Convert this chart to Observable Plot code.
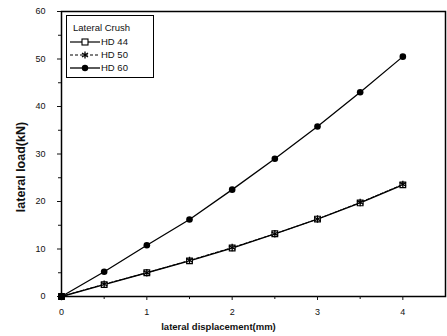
<!DOCTYPE html>
<html><head><meta charset="utf-8">
<script src="https://cdn.jsdelivr.net/npm/d3@7"></script>
<script src="https://cdn.jsdelivr.net/npm/@observablehq/plot@0.6"></script>
<style>
body{margin:0;background:#fff;font-family:"Liberation Sans",Arial,sans-serif;}
#wrap{position:relative;width:447px;height:336px;overflow:hidden;}
#legend{position:absolute;left:66px;top:15px;width:88px;height:63px;border:1.5px solid #000;background:#fff;font-size:9.5px;color:#111;box-sizing:border-box;white-space:nowrap;}
#legend .t{position:absolute;left:6px;top:6px;}
#legend .r{position:absolute;left:2px;height:12px;width:84px;}
#legend .r svg{position:absolute;left:0;top:0;}
#legend .r span{position:absolute;left:32px;top:0px;line-height:12px;}
</style></head><body><div id="wrap"></div>
<script>
const displacement = [0, 0.5, 1, 1.5, 2, 2.5, 3, 3.5, 4];
const hd44 = [0, 2.5, 5.0, 7.5, 10.2, 13.2, 16.3, 19.7, 23.5];
const hd50 = [0, 2.6, 5.0, 7.6, 10.3, 13.2, 16.3, 19.8, 23.6];
const hd60 = [0, 5.2, 10.8, 16.2, 22.5, 29.0, 35.8, 43.0, 50.5];
const seriesNames = ["HD 44", "HD 50", "HD 60"];
const yTicks = [0, 10, 20, 30, 40, 50, 60];
const xTicks = [0, 1, 2, 3, 4];
const xLabel = "lateral displacement(mm)";
const yLabel = "lateral load(kN)";

const d44 = displacement.map((x,i)=>({x, y: hd44[i]}));
const d50 = displacement.map((x,i)=>({x, y: hd50[i]}));
const d60 = displacement.map((x,i)=>({x, y: hd60[i]}));

const chart = Plot.plot({
  width: 447, height: 336,
  marginLeft: 61, marginRight: 2, marginTop: 11, marginBottom: 40,
  style: {fontFamily: '"Liberation Sans", Arial, sans-serif', fontSize: "9px", color: "#111", background: "#fff"},
  x: {domain: [0, 4.5]},
  y: {domain: [0, 60]},
  marks: [
    Plot.frame({stroke: "#000", strokeWidth: 1.5}),
    Plot.axisY(yTicks, {tickSize: 4, tickPadding: 12, label: null}),
    Plot.axisY([5,15,25,35,45,55], {tickSize: 3, text: null, label: null}),
    Plot.axisX(xTicks, {tickSize: 4, tickPadding: 8, label: null}),
    Plot.axisX([0.5,1.5,2.5,3.5], {tickSize: 3, text: null, label: null}),
    Plot.text([yLabel], {frameAnchor: "left", textAnchor: "middle", lineAnchor: "middle", rotate: -90, dx: -41, dy: 13, fontWeight: "bold", fontSize: 12.5}),
    Plot.text([xLabel], {frameAnchor: "bottom", dy: 33, dx: -35, fontWeight: "bold", fontSize: 9.5}),
    Plot.line(d44, {x: "x", y: "y", stroke: "#000", strokeWidth: 1.3}),
    Plot.line(d50, {x: "x", y: "y", stroke: "#000", strokeWidth: 1, strokeDasharray: "3,2"}),
    Plot.line(d60, {x: "x", y: "y", stroke: "#000", strokeWidth: 1.3}),
    Plot.dot(d44, {x: "x", y: "y", symbol: "square", r: 3.2, stroke: "#000", fill: "#fff", strokeWidth: 1.2}),
    Plot.dot(d50, {x: "x", y: "y", symbol: "asterisk", r: 3.5, stroke: "#000", strokeWidth: 1.3}),
    Plot.dot(d60, {x: "x", y: "y", symbol: "circle", r: 3.3, fill: "#000"})
  ]
});
const wrap = document.getElementById("wrap");
wrap.appendChild(chart);

const leg = document.createElement("div");
leg.id = "legend";
const sym = [
  '<svg width="32" height="12"><line x1="1" y1="6" x2="31" y2="6" stroke="#000" stroke-width="1.2"/><rect x="13" y="3" width="6" height="6" fill="#fff" stroke="#000" stroke-width="1.1"/></svg>',
  '<svg width="32" height="12"><line x1="1" y1="6" x2="31" y2="6" stroke="#000" stroke-width="1" stroke-dasharray="3,2"/><path d="M16 2.5V9.5M13 4L19 8M19 4L13 8" stroke="#000" stroke-width="1.3"/></svg>',
  '<svg width="32" height="12"><line x1="1" y1="6" x2="31" y2="6" stroke="#000" stroke-width="1.3"/><circle cx="16" cy="6" r="3.2" fill="#000"/></svg>'
];
let html = '<div class="t">Lateral Crush</div>';
seriesNames.forEach((n,i)=>{
  html += `<div class="r" style="top:${20 + i*13}px">${sym[i]}<span>${n}</span></div>`;
});
leg.innerHTML = html;
wrap.appendChild(leg);
</script></body></html>
